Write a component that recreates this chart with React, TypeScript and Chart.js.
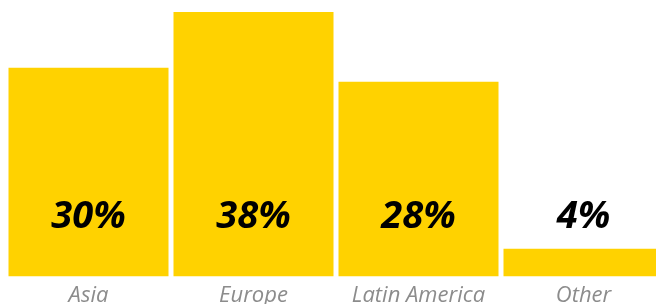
import React, { useEffect, useRef } from "react";
import { Chart, registerables } from "chart.js";

Chart.register(...registerables);

const categories = ["Asia", "Europe", "Latin America", "Other"];
const shares = [30, 38, 28, 4];
const valueLabels = ["30%", "38%", "28%", "4%"];

export default function App() {
  const ref = useRef<HTMLCanvasElement>(null);

  useEffect(() => {
    const valuePlugin = {
      id: "valueLabels",
      afterDatasetsDraw(chart: any) {
        const { ctx, chartArea } = chart;
        const meta = chart.getDatasetMeta(0);
        ctx.save();
        ctx.font = "italic bold 38px 'Open Sans'";
        ctx.fillStyle = "#000000";
        ctx.textAlign = "center";
        ctx.textBaseline = "alphabetic";
        meta.data.forEach((el: any, i: number) => {
          ctx.fillText(valueLabels[i], el.x, chartArea.bottom - 49);
        });
        ctx.restore();
      },
    };

    const chart = new Chart(ref.current as HTMLCanvasElement, {
      type: "bar",
      data: {
        labels: categories,
        datasets: [
          {
            data: shares,
            backgroundColor: "#FFD200",
            barPercentage: 160 / 165,
            categoryPercentage: 1,
          },
        ],
      },
      options: {
        animation: false,
        responsive: false,
        maintainAspectRatio: false,
        layout: { padding: { top: 4, left: 0, right: 0, bottom: -7 } },
        plugins: { legend: { display: false }, tooltip: { enabled: false } },
        scales: {
          x: {
            grid: { display: false, drawTicks: false },
            border: { display: false },
            ticks: {
              color: "#8c8c8c",
              font: { family: "'Open Sans'", size: 22, style: "italic" },
              padding: 6,
              maxRotation: 0,
              autoSkip: false,
            },
          },
          y: { display: false, min: 0, max: 38 },
        },
      },
      plugins: [valuePlugin],
    });
    return () => chart.destroy();
  }, []);

  return (
    <div
      style={{
        position: "fixed",
        left: 0,
        top: 0,
        width: 656,
        height: 304,
        overflow: "hidden",
        background: "#ffffff",
      }}
    >
      <canvas
        ref={ref}
        width={660}
        height={300}
        style={{ position: "absolute", left: 5.5, top: 8, width: 660, height: 300 }}
      />
    </div>
  );
}
